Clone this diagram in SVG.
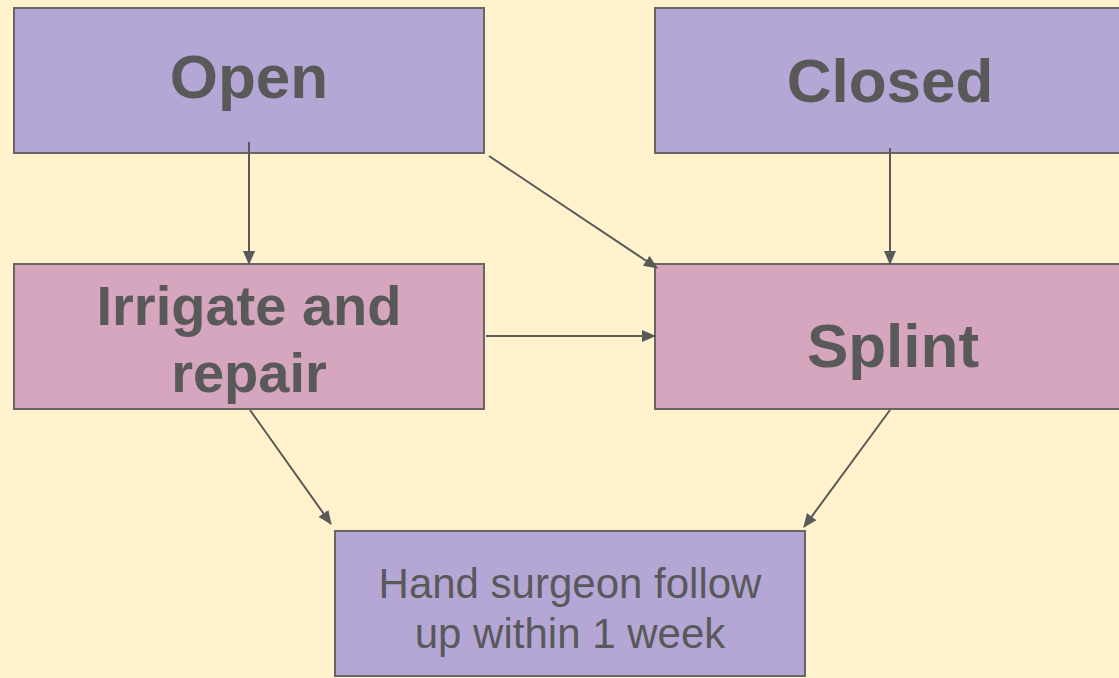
<svg xmlns="http://www.w3.org/2000/svg" width="1119" height="678" viewBox="0 0 1119 678">
<defs>
<style>
.bg{fill:#FFF2CC}
.p{fill:#B4A7D6;stroke:#666666;stroke-width:2}
.k{fill:#D5A6BD;stroke:#666666;stroke-width:2}
.t{font-family:"Liberation Sans",Arial,sans-serif;fill:#595959;text-anchor:middle}
.b{font-weight:bold}
.c{stroke:#595959;stroke-width:2;fill:none;marker-end:url(#ah)}
</style>
<marker id="ah" viewBox="0 0 14 12" refX="13" refY="6" markerWidth="14" markerHeight="12" markerUnits="userSpaceOnUse" orient="auto">
<path d="M0,0 L14,6 L0,12 z" fill="#595959"/>
</marker>
</defs>
<rect class="bg" x="0" y="0" width="1119" height="678"/>
<g id="open">
<rect class="p" x="14" y="8" width="470" height="145"/>
<text class="t b" x="249" y="98" font-size="62">Open</text>
</g>
<g id="closed">
<rect class="p" x="655" y="8" width="470" height="145"/>
<text class="t b" x="890" y="102" font-size="62">Closed</text>
</g>
<g id="irrigate">
<rect class="k" x="14" y="264" width="470" height="145"/>
<text class="t b" x="249" y="325" font-size="56">Irrigate and</text>
<text class="t b" x="249" y="392" font-size="56">repair</text>
</g>
<g id="splint">
<rect class="k" x="655" y="264" width="470" height="145"/>
<text class="t b" x="893" y="367" font-size="62">Splint</text>
</g>
<g id="followup">
<rect class="p" x="335" y="531" width="470" height="145"/>
<text class="t" x="570" y="598" font-size="42">Hand surgeon follow</text>
<text class="t" x="570" y="648" font-size="42">up within 1 week</text>
</g>
<g id="connectors">
<line class="c" x1="249" y1="142" x2="249" y2="264"/>
<line class="c" x1="489" y1="156" x2="657" y2="268"/>
<line class="c" x1="890" y1="148" x2="890" y2="264"/>
<line class="c" x1="486" y1="336" x2="655" y2="336"/>
<line class="c" x1="250" y1="410" x2="331" y2="524"/>
<line class="c" x1="890" y1="410" x2="804" y2="527"/>
</g>
</svg>
